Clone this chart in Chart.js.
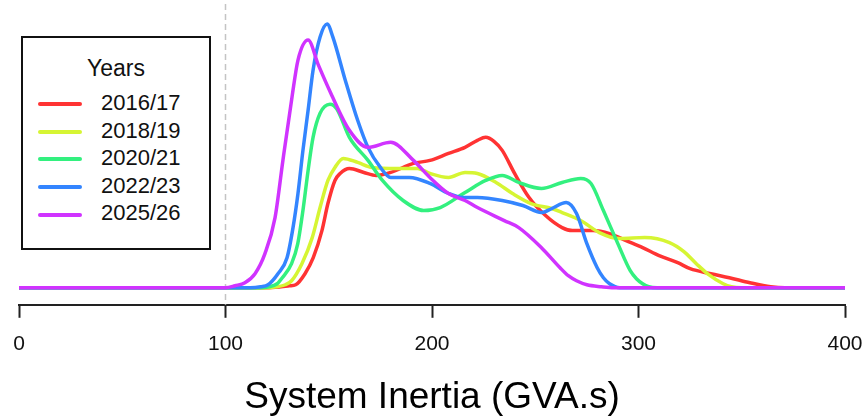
<!DOCTYPE html>
<html>
<head>
<meta charset="utf-8">
<script src="https://cdn.jsdelivr.net/npm/chart.js@4.4.1/dist/chart.umd.min.js"></script>
<style>
  body { margin: 0; background: #fff; font-family: "Liberation Sans", Arial, sans-serif; }
  #wrap { position: relative; width: 866px; height: 416px; }
  #legend {
    position: absolute; left: 21px; top: 36px; width: 190px; height: 214px;
    box-sizing: border-box; border: 2px solid #111; background: #fff;
  }
  #legend .title { position: absolute; top: 17px; left: 0; width: 100%; text-align: center; font-size: 23px; color: #111; }
  #legend .row { position: absolute; left: 15px; height: 26px; line-height: 26px; font-size: 22px; color: #111; }
  #legend .row span.swatch { display: inline-block; width: 44px; height: 4px; border-radius: 2px; vertical-align: middle; margin-right: 19px; }
</style>
</head>
<body>
<div id="wrap">
  <canvas id="chart" width="866" height="416"></canvas>
  <div id="legend"><div class="title">Years</div></div>
</div>
<script>
// kernel density of system inertia per year, density x 10^-4
const years = ['2016/17', '2018/19', '2020/21', '2022/23', '2025/26'];
const colors = ['#ff3333', '#d6f533', '#33f07f', '#3385ff', '#d033ff'];

const inertia2016 = [0, 100, 120, 127, 131, 134, 138.5, 142.5, 146.7, 149.6, 153, 155.5, 160, 167, 173, 180, 191, 199, 208, 216, 222, 226, 230, 234, 240, 247, 255, 263, 268, 278, 286, 294, 302, 310, 319, 325, 335, 344, 354, 364, 371, 400];
const density2016 = [0, 0, 0, 1, 2, 3, 14, 30, 57, 84, 107, 114, 119, 115, 112, 115, 124, 127, 134, 140, 147, 150, 146, 137, 114, 90, 72, 60, 57, 57, 54, 47, 40, 32, 25, 19, 14, 10, 5, 1, 0, 0];

const inertia2018 = [0, 100, 118, 125, 129, 132, 137, 142, 145.8, 149.6, 153, 157, 164, 171, 183, 193, 199, 208, 216, 222, 231, 239, 248, 258, 263, 272, 281, 291, 303, 315, 322, 328, 334, 341, 345, 350, 400];
const density2018 = [0, 0, 0, 1, 3, 7, 24, 50, 80, 107, 120, 129, 125, 120, 119, 119, 114, 110, 115, 114, 105, 94, 84, 79, 75, 67, 55, 49, 50, 45, 36, 24, 13, 4, 1, 0, 0];

const inertia2020 = [0, 100, 115, 121, 125, 127.5, 132, 135, 137.5, 140, 142.4, 145.8, 150.6, 154, 160, 169, 176, 186, 196, 204, 216, 226, 234, 242, 253, 263, 272, 277, 283, 290, 296, 299, 302, 305, 309, 400];
const density2020 = [0, 0, 0, 1, 4, 10, 24, 44, 77, 117, 150, 174, 183, 178, 150, 127, 107, 87, 77, 80, 95, 107, 112, 105, 99, 105, 109, 104, 77, 44, 17, 9, 4, 1, 0, 0];

const inertia2022 = [0, 100, 112, 117, 120.6, 125.4, 129.8, 132.7, 135.1, 137.5, 140, 142.4, 145.8, 149.2, 152, 158, 164, 169, 175, 180, 189, 199, 208, 215, 222, 234, 244, 253, 258, 265, 270, 275, 280, 283, 286, 291, 400];
const density2022 = [0, 0, 0, 1, 3, 14, 30, 60, 94, 137, 177, 217, 250, 263, 250, 207, 167, 140, 120, 110, 110, 104, 94, 90, 90, 87, 82, 75, 79, 85, 74, 44, 20, 10, 4, 0, 0];

const inertia2025 = [0, 100, 104.6, 109.4, 114.3, 119.1, 124, 127.8, 132.2, 135.1, 140, 145, 151, 160, 169, 180, 191, 199, 208, 216, 222, 235, 242, 253, 262, 266, 270, 275, 282, 288, 400];
const density2025 = [0, 0, 2, 5, 14, 34, 70, 127, 190, 227, 247, 222, 194, 157, 140, 145, 127, 110, 94, 87, 80, 67, 60, 40, 20, 12, 7, 3, 1, 0, 0];

const xTicks = [0, 100, 200, 300, 400];
const cutoff = 100;

const inertia = [inertia2016, inertia2018, inertia2020, inertia2022, inertia2025];
const density = [density2016, density2018, density2020, density2022, density2025];

// legend box
const legend = document.getElementById('legend');
years.forEach((y, i) => {
  const row = document.createElement('div');
  row.className = 'row';
  row.style.top = (52 + i * 27.6) + 'px';
  row.innerHTML = '<span class="swatch" style="background:' + colors[i] + '"></span>' + y;
  legend.appendChild(row);
});

const cutoffLine = {
  id: 'cutoffLine',
  beforeDatasetsDraw(chart) {
    const {ctx, chartArea} = chart;
    const px = chart.scales.x.getPixelForValue(cutoff);
    ctx.save();
    ctx.strokeStyle = '#c4c4c4';
    ctx.lineWidth = 1.5;
    ctx.setLineDash([6, 4]);
    ctx.beginPath();
    ctx.moveTo(px, 4);
    ctx.lineTo(px, chartArea.bottom);
    ctx.stroke();
    ctx.restore();
  }
};

const fontFamily = '"Liberation Sans", Arial, sans-serif';
Chart.defaults.font.family = fontFamily;

new Chart(document.getElementById('chart'), {
  type: 'line',
  data: {
    datasets: years.map((y, i) => ({
      label: y,
      data: inertia[i].map((x, j) => ({x: x, y: density[i][j]})),
      borderColor: colors[i],
      borderWidth: 3.5,
      pointRadius: 0,
      cubicInterpolationMode: 'monotone',
      order: years.length - i
    }))
  },
  options: {
    responsive: false,
    animation: false,
    layout: { padding: {left: 19, right: 21, top: 10, bottom: 0} },
    scales: {
      x: {
        type: 'linear',
        min: 0,
        max: 400,
        afterBuildTicks: axis => { axis.ticks = xTicks.map(v => ({value: v})); },
        afterFit: axis => { axis.paddingLeft = 0; axis.paddingRight = 0; },
        ticks: { color: '#111', font: {size: 21}, padding: 14 },
        grid: { drawOnChartArea: false, tickLength: 13, tickWidth: 2, tickColor: '#222' },
        border: { display: true, color: '#222', width: 2 },
        title: {
          display: true,
          text: 'System Inertia (GVA.s)',
          color: '#000',
          font: {size: 37, lineHeight: 1.0},
          padding: {top: 8, bottom: 0}
        }
      },
      y: { display: false, min: -17, max: 277 }
    },
    plugins: {
      legend: { display: false },
      tooltip: { enabled: false }
    }
  },
  plugins: [cutoffLine]
});
</script>
</body>
</html>
